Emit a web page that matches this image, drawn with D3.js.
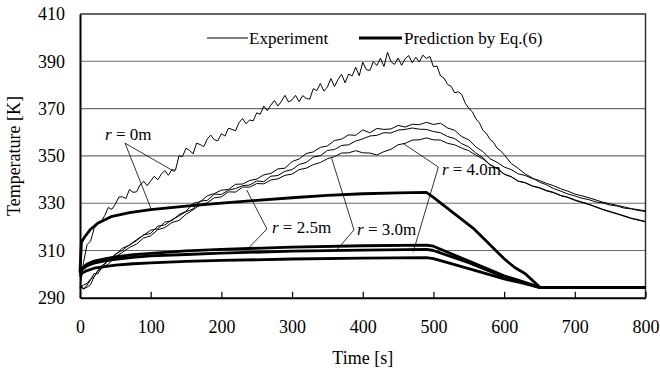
<!DOCTYPE html>
<html>
<head>
<meta charset="utf-8">
<script src="https://cdn.jsdelivr.net/npm/d3@7"></script>
</head>
<body style="margin:0;background:#fff">
<div id="chart"></div>
<script>
// experiment, r = 0m
const e0Time = [0,5,10,15,20,25,30,35,40,45,50,55,60,65,70,75,80,85,90,95,100,105,110,115,120,125,130,135,140,145,150,155,160,165,170,175,180,185,190,195,200,205,210,215,220,225,230,235,240,245,250,255,260,265,270,275,280,285,290,295,300,305,310,315,320,325,330,335,340,345,350,355,360,365,370,375,380,385,390,395,400,405,410,415,420,425,430,435,440,445,450,455,460,465,470,475,480,485,490,495,500,505,510,515,520,525,530,535,540,545,550,555,560,565,570,575,580,585,590,595,600,610,620,630,640,650,660,670,680,690,700,710,720,730,740,750,760,770,780,790,800];
const e0Temp = [294,305,312.5,314,319.3,321.2,322.2,324.8,328.2,327.4,329.6,332.6,332.7,332,335.8,334.6,334.8,337.7,339.3,337.4,339.4,341.4,339.9,342.3,343.8,341.8,344.2,343.9,350,349.7,353.3,352.3,350.9,355.4,354.8,353.9,357.1,358.8,356.8,356.4,359.4,358.4,361.7,361.2,360.6,364.1,365.8,363.6,365.2,364.8,368.2,367.6,371.1,369.1,371.5,373.4,371.1,373.1,375.6,372.8,373.7,375.6,372.9,375.5,374.3,374,378.4,377.6,380.6,377.4,379.1,382.7,379.3,382.3,384.5,380.9,384.6,383.8,387.5,383.9,389.6,386.5,386.1,389.9,388.2,391.3,387.8,393.8,389.8,388.7,391.4,388.3,391.1,392.4,389.4,391.7,389.7,392.6,391.2,392,387.7,388,383.8,382.9,380.2,379.4,376.7,377.1,376,372.3,370.1,368.7,365.7,364,360.8,359.5,357,355.7,353.3,352.2,350.5,346.8,344.7,342.3,340.7,338.9,337.8,336.2,335.1,333.9,333.1,332.1,331.5,330.5,330.1,329.2,328.8,327.9,327.6,326.9,326.5];

// experiment, other three radii
const expTime = [0,5,10,15,20,25,30,40,50,60,70,80,90,100,110,120,130,140,150,160,170,180,190,200,210,220,230,240,250,260,270,280,290,300,310,320,330,340,350,360,370,380,390,400,410,420,430,440,450,460,470,480,490,500,510,520,530,540,550,560,570,580,590,600,610,620,630,640,650,660,670,680,690,700,720,740,760,780,800];
const eATemp = [294,295.5,296,298,298.8,301.5,302.2,306,308,311,312.2,314.6,316.5,318.6,319.2,322,322.6,325.2,326.6,329.9,330.6,333.1,334.1,335.5,335.8,338,338.1,339.6,340.2,342,342.6,344.5,344.8,347.6,348.7,351,351.7,353.6,354.2,356.5,357.1,358.9,358.7,361,359.8,361.6,361.2,361.4,362.9,362.2,363.4,363.2,364.2,363.3,363.8,361.8,360.8,358.2,356.8,353.8,351.8,348.8,347.3,345.3,344.2,342.4,341.7,340.4,339.6,338.4,337.4,336.1,335.1,333.9,332.3,330.4,329.1,327.7,326.8];
const eBTemp = [296,293.8,294.5,295.6,298.9,301.2,303.4,305.6,308.5,310.1,312.5,314.1,316.6,317.2,320.3,320.8,323,324.6,326.4,327.6,330.9,331.2,333.8,333.7,335.5,336.2,337.4,337.7,339.4,339.1,341.4,341.7,343.5,344.2,346.4,347.2,349.5,350.1,352.3,352.7,354.4,354.7,356.3,357.2,358.4,358.7,359.8,359.7,360.9,361.2,361.8,361.3,361.2,360.3,359.8,358.2,357.3,355.2,353.8,351.2,349.3,346.2,344.8,342.3,341.2,339.3,338.7,337.3,336.6,335.4,334.6,333.3,332.6,331.4,329.6,327.4,325.6,323.7,322.3];
const eCTemp = [295,293.6,295.4,297.6,300.3,300.1,302.4,304.2,307.3,309.2,311.3,312.7,315.3,316.2,318.8,319.7,321.8,322.7,325.3,327.2,329.3,330.2,332.3,332.7,334.8,334.7,336.8,336.8,338.3,338.2,339.8,340.3,341.8,342.3,344.2,344.8,346.3,347.2,348.8,349.7,351.2,351.3,352.2,351.3,351.2,350.4,351.8,352.8,354.7,355.3,356.7,356.8,357.6,356.8,356.7,355.3,354.7,353.3,352.2,350.3,348.7,346.3,344.7,342.3,341.2,339.3,338.6,337.2,336.4,335.2,334.4,333.2,332.4,331.2,329.4,327.2,325.4,323.5,322.1];

// prediction by Eq.(6)
const p0Time = [0,2,6,15,25,44,70,100,150,200,250,300,350,400,450,490,500,530,556,585,600,615,630,651,800];
const p0Temp = [301,313.5,315.5,319,321.5,324.3,326,327.3,328.8,330,331.2,332.3,333.3,334,334.4,334.6,332.5,325.5,319.5,311,306.5,302.8,300.2,294.3,294.3];
const pTime = [0,3,10,20,35,50,75,100,150,200,300,400,490,500,550,600,625,651,800];
const p1Temp = [300.5,302.5,304.3,305.5,306.5,307.3,308.2,308.8,309.8,310.5,311.4,312,312.3,311.8,305.5,299.3,297,294.3,294.3];
const p2Temp = [300,302,303.5,304.7,305.6,306.3,307.1,307.7,308.3,308.9,309.7,310.2,310.5,310,304.8,298.8,296.7,294.3,294.3];
const p3Temp = [299,300.5,301.5,302.5,303.2,303.8,304.4,304.8,305.4,305.8,306.4,306.8,307,306.6,302.3,298,296.3,294.3,294.3];

const xTicks = [0,100,200,300,400,500,600,700,800];
const yTicks = [290,310,330,350,370,390,410];

// radius labels: text anchor, leader vertex, two leader ends (data units)
const labelNames = ['0m', '2.5m', '3.0m', '4.0m'];
const labelText = [[35.4,356.7],[271.6,317.4],[391.9,316.6],[512,341.9]];
const labelVertex = [[63.7,355.4],[264.5,319.1],[387.6,318.7],[507,345.3]];
const labelEndA = [[134,343.3],[235.8,335.6],[356,349],[457,355.3]];
const labelEndB = [[100.9,327.4],[238,310.9],[363,310.2],[471.5,309.5]];

const width = 660, height = 373;
const margin = { top: 14, right: 14.5, bottom: 75.2, left: 80 };
const innerW = width - margin.left - margin.right;
const innerH = height - margin.top - margin.bottom;

const svg = d3.select('#chart')
  .append('svg')
  .attr('width', width)
  .attr('height', height)
  .attr('font-family', 'serif');

const g = svg.append('g')
  .attr('transform', `translate(${margin.left},${margin.top})`);

const x = d3.scaleLinear().domain([0, 800]).range([0, innerW]);
const y = d3.scaleLinear().domain([290, 410]).range([innerH, 0]);

// grid
g.append('g')
  .selectAll('line')
  .data(yTicks.slice(1, -1))
  .enter()
  .append('line')
  .attr('x1', 0)
  .attr('x2', innerW)
  .attr('y1', d => y(d))
  .attr('y2', d => y(d))
  .attr('stroke', '#6e6e6e')
  .attr('stroke-width', 1.1);

// frame top / right
g.append('path')
  .attr('d', `M0,${y(410)}H${innerW}V${innerH}`)
  .attr('fill', 'none')
  .attr('stroke', '#333')
  .attr('stroke-width', 1.5);

// axes
const xAxis = g.append('g')
  .attr('transform', `translate(0,${innerH})`)
  .call(d3.axisBottom(x).tickValues(xTicks).tickSizeInner(-6).tickSizeOuter(0).tickPadding(0).tickFormat(d3.format('d')))
  .attr('font-family', null)
  .attr('font-size', null);
xAxis.select('.domain').attr('stroke', '#000').attr('stroke-width', 2);
xAxis.selectAll('.tick line').attr('stroke', '#000').attr('stroke-width', 1.2);
xAxis.selectAll('.tick text')
  .attr('y', 35)
  .attr('dy', 0)
  .attr('font-size', 18)
  .attr('fill', '#000');

const yAxis = g.append('g')
  .call(d3.axisLeft(y).tickValues(yTicks).tickSize(0).tickPadding(15).tickFormat(d3.format('d')))
  .attr('font-family', null)
  .attr('font-size', null);
yAxis.select('.domain').attr('stroke', '#000').attr('stroke-width', 2);
yAxis.selectAll('.tick text')
  .attr('font-size', 18)
  .attr('fill', '#000');

// lines
const line = d3.line()
  .x(d => x(d[0]))
  .y(d => y(d[1]));

const zip = (ts, vs) => ts.map((t, i) => [t, vs[i]]);

const expSeries = [zip(e0Time, e0Temp), zip(expTime, eATemp), zip(expTime, eBTemp), zip(expTime, eCTemp)];
const predSeries = [zip(p0Time, p0Temp), zip(pTime, p1Temp), zip(pTime, p2Temp), zip(pTime, p3Temp)];

g.append('g')
  .selectAll('path')
  .data(expSeries)
  .enter()
  .append('path')
  .attr('d', line)
  .attr('fill', 'none')
  .attr('stroke', '#000')
  .attr('stroke-width', 1)
  .attr('stroke-linejoin', 'round');

g.append('g')
  .selectAll('path')
  .data(predSeries)
  .enter()
  .append('path')
  .attr('d', line)
  .attr('fill', 'none')
  .attr('stroke', '#000')
  .attr('stroke-width', 2.8)
  .attr('stroke-linejoin', 'round');

// radius labels
const labels = g.append('g');
labelNames.forEach((name, i) => {
  labels.append('path')
    .attr('d', `M${x(labelEndA[i][0])},${y(labelEndA[i][1])}L${x(labelVertex[i][0])},${y(labelVertex[i][1])}L${x(labelEndB[i][0])},${y(labelEndB[i][1])}`)
    .attr('fill', 'none')
    .attr('stroke', '#000')
    .attr('stroke-width', 0.8);
  const t = labels.append('text')
    .attr('x', x(labelText[i][0]))
    .attr('y', y(labelText[i][1]))
    .attr('font-size', 17)
    .attr('fill', '#000');
  t.append('tspan').attr('font-style', 'italic').text('r');
  t.append('tspan').text(' = ' + name);
});

// legend
const legend = svg.append('g');
legend.append('line')
  .attr('x1', 207).attr('x2', 248).attr('y1', 38).attr('y2', 38)
  .attr('stroke', '#000').attr('stroke-width', 1);
legend.append('text')
  .attr('x', 249).attr('y', 44)
  .attr('font-size', 17)
  .text('Experiment');
legend.append('line')
  .attr('x1', 359).attr('x2', 402).attr('y1', 38).attr('y2', 38)
  .attr('stroke', '#000').attr('stroke-width', 3);
legend.append('text')
  .attr('x', 404).attr('y', 44)
  .attr('font-size', 17)
  .text('Prediction by Eq.(6)');

// axis titles
svg.append('text')
  .attr('x', margin.left + innerW / 2)
  .attr('y', 364)
  .attr('text-anchor', 'middle')
  .attr('font-size', 18)
  .text('Time [s]');

svg.append('text')
  .attr('transform', 'translate(20,156) rotate(-90)')
  .attr('text-anchor', 'middle')
  .attr('font-size', 18)
  .text('Temperature [K]');

svg.selectAll('text')
  .attr('font-family', 'serif')
  .style('font-family', '"Liberation Serif"');
</script>
</body>
</html>
